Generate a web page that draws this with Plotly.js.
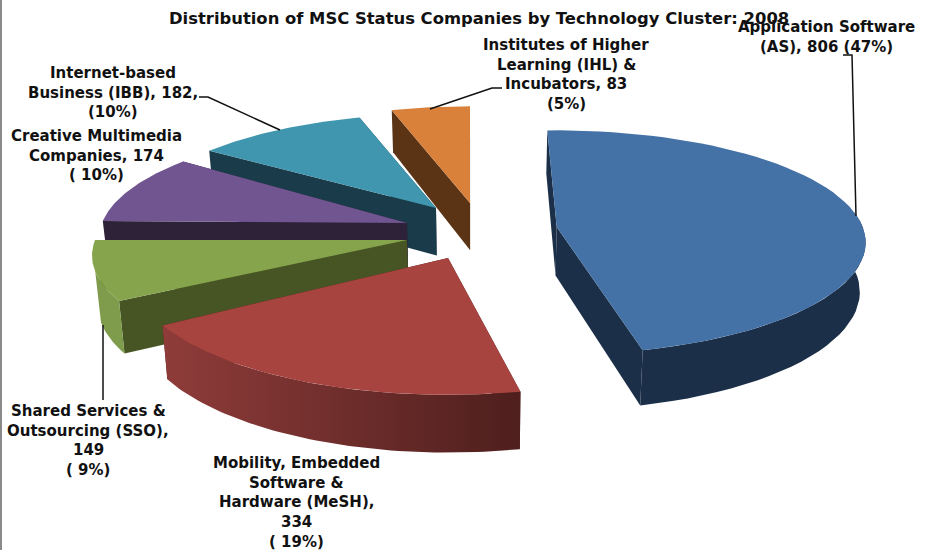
<!DOCTYPE html>
<html><head><meta charset="utf-8">
<script src="https://cdn.plot.ly/plotly-3.0.1.min.js"></script>
<style>html,body{margin:0;padding:0;background:#fff}</style>
</head><body><div id="chart" style="width:951px;height:550px"></div>
<script>
// --- data ---
const categories = ["Application Software (AS)","Mobility, Embedded Software & Hardware (MeSH)","Shared Services & Outsourcing (SSO)","Creative Multimedia Companies","Internet-based Business (IBB)","Institutes of Higher Learning (IHL) & Incubators"];
const values = [806,334,149,174,182,83];
const chartTitle = "Distribution of MSC Status Companies by Technology Cluster: 2008";
const labelLines = [
 ["Application Software","(AS), 806 (47%)"],
 ["Mobility, Embedded","Software &","Hardware (MeSH),","334","( 19%)"],
 ["Shared Services &","Outsourcing (SSO),","149","( 9%)"],
 ["Creative Multimedia","Companies, 174","( 10%)"],
 ["Internet-based","Business (IBB), 182,","(10%)"],
 ["Institutes of Higher","Learning (IHL) &","Incubators, 83","(5%)"]
];
// --- styling / 3D layout ---
const topColor  = ["#4471A6","#A74440","#86A44C","#705590","#3F96AE","#D9803B"];
const wallColor = ["#1C2F48","#4E1F1D","#475524","#2D2238","#1A3B49","#5A3415"];
const rimColor  = ["#1C2F48",["#8F3C3A","#4E1F1D"],"#7E9C4C","#2D2238","#1A3B49","#5A3415"];
const apexX = [556.7,448,407,407,436,470];
const apexY = [227,258,240,223,208,203];
const radX  = [306,312,312,305,300,298];
const radY  = [110,118,110,110,107,110];
const rot   = [0,2.5,3.5,4.5,2.5,2];
const rimCut = [0.15,0.15,-0.27,-2,-2,-2];
const drawOrder = [5,4,3,2,0,1];
const labelCx = [826,296,88,96,113,566];
const labelCy = [27,463,411,136,73,45];
const lineStep = 19.7;
const leaders = [
 [[843,852,856],[55,55,216]],
 [[430,492,502],[109,88,88]],
 [[199,208,280],[97,97,130]],
 [[103,103],[325,400]]
];
const startAngle = -2, persp = 0.138;

const total = values.reduce((a,b)=>a+b,0);
function proj(i,deg){
  const t=deg*Math.PI/180, w=1+persp*Math.cos(t);
  return [apexX[i]+radX[i]*Math.sin(t)/w, apexY[i]-radY[i]*Math.cos(t)/w];
}
function drop(p){ return [p[0]+(480-p[0])*0.015, p[1]+36+0.055*p[1]]; }
function poly(pts,color){
  const tr={type:'scatter',mode:'lines',x:pts.map(p=>p[0]),y:pts.map(p=>p[1]),
    fill:'toself',line:{width:0},hoverinfo:'skip',showlegend:false};
  if(Array.isArray(color)) tr.fillgradient={type:'horizontal',colorscale:[[0,color[0]],[1,color[1]]]};
  else tr.fillcolor=color;
  return tr;
}
const sweep={}; let acc=startAngle;
values.forEach((v,i)=>{const d=v/total*360; sweep[i]=[acc+rot[i],acc+rot[i]+d]; acc+=d;});
const traces=[];
drawOrder.forEach(i=>{
  const [a,b]=sweep[i], apex=[apexX[i],apexY[i]], arc=[];
  for(let k=0;k<=60;k++) arc.push(proj(i,a+(b-a)*k/60));
  [arc[0],arc[60]].forEach(p=>traces.push(poly([apex,p,drop(p),drop(apex)],wallColor[i])));
  const front=arc.filter((p,k)=>Math.cos((a+(b-a)*k/60)*Math.PI/180)<rimCut[i]);
  if(rimCut[i]>-2 && front.length>1) traces.push(poly(front.concat(front.slice().reverse().map(drop)),rimColor[i]));
  traces.push(poly([apex].concat(arc),topColor[i]));
});
leaders.forEach(l=>traces.push({type:'scatter',mode:'lines',x:l[0],y:l[1],line:{color:'#111',width:1.5},hoverinfo:'skip',showlegend:false}));

const labelFont={family:'"DejaVu Sans",sans-serif',size:15,color:'#111',weight:700};
const titleFont={family:'"DejaVu Sans",sans-serif',size:16.4,color:'#111',weight:700};
const annotations=[];
annotations.push({text:chartTitle,x:479,y:18,xref:'x',yref:'y',showarrow:false,xanchor:'center',yanchor:'middle',font:titleFont});
labelLines.forEach((ls,i)=>ls.forEach((t,j)=>annotations.push({text:t,x:labelCx[i],y:labelCy[i]+j*lineStep,
  xref:'x',yref:'y',showarrow:false,xanchor:'center',yanchor:'middle',font:labelFont})));
const layout={width:951,height:550,margin:{l:0,r:0,t:0,b:0},paper_bgcolor:'#fff',plot_bgcolor:'#fff',showlegend:false,
  xaxis:{range:[0,951],visible:false,fixedrange:true},
  yaxis:{range:[550,0],visible:false,fixedrange:true},
  shapes:[{type:'rect',xref:'x',yref:'y',x0:0,x1:2,y0:0,y1:550,fillcolor:'#8A8A8A',line:{width:0}}],
  annotations};
Plotly.newPlot('chart',traces,layout,{staticPlot:true,displayModeBar:false});
</script></body></html>
